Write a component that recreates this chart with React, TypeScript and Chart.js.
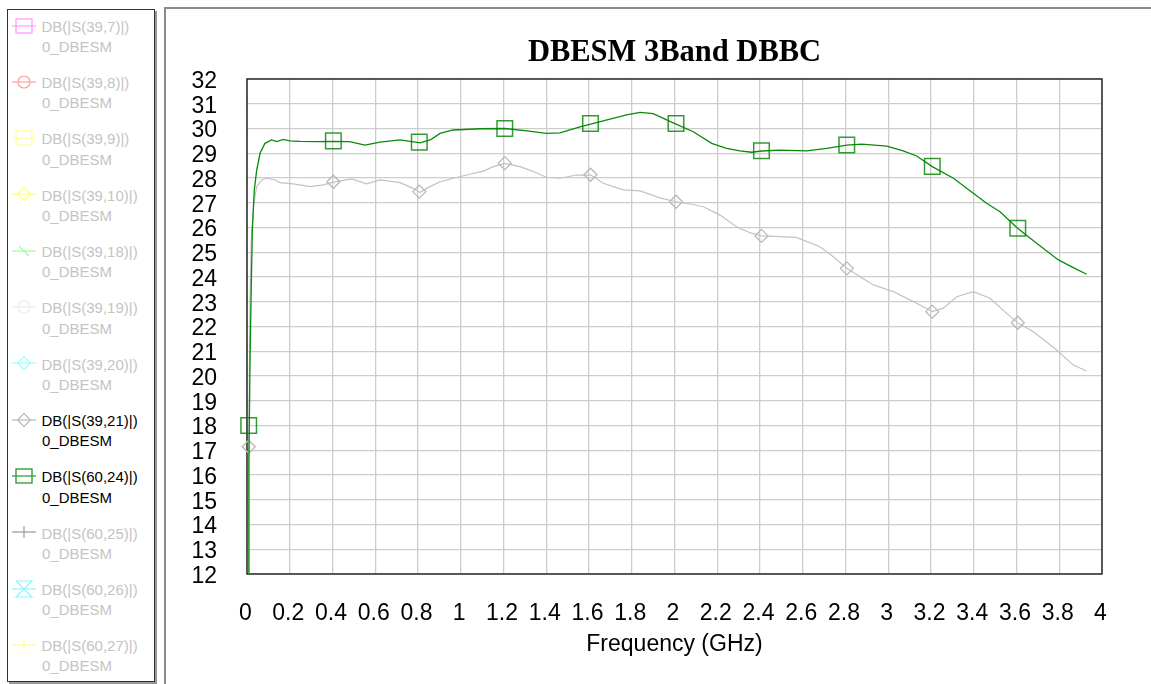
import React, { useEffect, useRef } from 'react';
import { Chart, registerables } from 'chart.js';

Chart.register(...registerables);

// ---------- data ----------
const chartTitle = 'DBESM 3Band DBBC';
const xAxisTitle = 'Frequency (GHz)';

const xTickValues = [0, 0.2, 0.4, 0.6, 0.8, 1, 1.2, 1.4, 1.6, 1.8, 2, 2.2, 2.4, 2.6, 2.8, 3, 3.2, 3.4, 3.6, 3.8, 4];
const xTickLabels = ['0', '0.2', '0.4', '0.6', '0.8', '1', '1.2', '1.4', '1.6', '1.8', '2', '2.2', '2.4', '2.6', '2.8', '3', '3.2', '3.4', '3.6', '3.8', '4'];
const yTickValues = [12, 13, 14, 15, 16, 17, 18, 19, 20, 21, 22, 23, 24, 25, 26, 27, 28, 29, 30, 31, 32];

// DB(|S(60,24)|) – green trace
const greenFreq = [
  0.006, 0.009, 0.014, 0.019, 0.025, 0.034, 0.045, 0.061, 0.084, 0.115, 0.139, 0.17, 0.2, 0.248, 0.326,
  0.404, 0.48, 0.552, 0.622, 0.716, 0.81, 0.86, 0.903, 0.965, 1.09, 1.207, 1.31, 1.4, 1.464, 1.558,
  1.608, 1.698, 1.776, 1.839, 1.9, 2.007, 2.088, 2.174, 2.244, 2.306, 2.361, 2.408, 2.494, 2.618, 2.712,
  2.806, 2.876, 2.993, 3.07, 3.133, 3.206, 3.305, 3.398, 3.46, 3.523, 3.605, 3.694, 3.796, 3.866, 3.928,
];
const greenDb = [
  5, 16.6, 20.5, 23.2, 25.9, 27.5, 28.3, 29.0, 29.4, 29.54, 29.47, 29.56, 29.5, 29.48, 29.47,
  29.48, 29.47, 29.33, 29.45, 29.54, 29.42, 29.55, 29.8, 29.94, 29.99, 30.0, 29.9, 29.8, 29.82, 30.07,
  30.18, 30.38, 30.55, 30.65, 30.6, 30.18, 29.87, 29.4, 29.2, 29.1, 29.04, 29.09, 29.13, 29.1, 29.2,
  29.33, 29.37, 29.29, 29.1, 28.89, 28.46, 27.99, 27.38, 26.98, 26.64, 25.97, 25.36, 24.69, 24.38, 24.11,
];

// DB(|S(39,21)|) – gray trace
const grayFreq = [
  0.006, 0.008, 0.014, 0.02, 0.03, 0.045, 0.069, 0.092, 0.131, 0.154, 0.217, 0.295, 0.357, 0.404, 0.49,
  0.56, 0.622, 0.716, 0.778, 0.81, 0.84, 0.903, 0.965, 1.028, 1.106, 1.152, 1.207, 1.277, 1.34, 1.4,
  1.464, 1.54, 1.609, 1.667, 1.76, 1.84, 1.932, 2.007, 2.073, 2.135, 2.213, 2.29, 2.353, 2.405, 2.494,
  2.57, 2.68, 2.743, 2.806, 2.93, 3.024, 3.133, 3.206, 3.258, 3.32, 3.398, 3.476, 3.554, 3.605, 3.679,
  3.788, 3.866, 3.928,
];
const grayDb = [
  4, 17.1, 23.0, 25.5, 26.84, 27.65, 27.92, 27.99, 27.92, 27.81, 27.76, 27.65, 27.72, 27.83, 27.96,
  27.76, 27.92, 27.81, 27.58, 27.41, 27.58, 27.85, 27.99, 28.12, 28.28, 28.46, 28.59, 28.46, 28.26, 28.03,
  27.99, 28.12, 28.12, 27.79, 27.52, 27.48, 27.2, 27.04, 26.95, 26.84, 26.5, 26.03, 25.79, 25.66, 25.63,
  25.6, 25.22, 24.82, 24.35, 23.68, 23.41, 22.94, 22.6, 22.74, 23.2, 23.41, 23.14, 22.53, 22.15, 21.79,
  21.05, 20.44, 20.2,
];

// trace markers
const markerFreq = [0.008, 0.404, 0.806, 1.206, 1.607, 2.007, 2.407, 2.806, 3.206, 3.606];
const greenMarkerDb = [18.0, 29.5, 29.45, 30.0, 30.2, 30.2, 29.1, 29.33, 28.47, 25.97];
const grayMarkerDb = [17.14, 27.85, 27.45, 28.6, 28.13, 27.04, 25.66, 24.35, 22.6, 22.15];

// legend entries
const legendLabels = [
  'DB(|S(39,7)|)', 'DB(|S(39,8)|)', 'DB(|S(39,9)|)', 'DB(|S(39,10)|)', 'DB(|S(39,18)|)', 'DB(|S(39,19)|)',
  'DB(|S(39,20)|)', 'DB(|S(39,21)|)', 'DB(|S(60,24)|)', 'DB(|S(60,25)|)', 'DB(|S(60,26)|)', 'DB(|S(60,27)|)',
];
const legendSubLabel = '0_DBESM';
const legendColors = [
  '#ff9cff', '#ff9c9c', '#ffff9c', '#ffff70', '#9cff9c', '#ececec',
  '#9cffff', '#b8b8b8', '#2a952a', '#9a9a9a', '#8cf4ff', '#ffff8c',
];
const legendSymbols = [
  'rect', 'circle', 'rect', 'diamond', 'slash', 'circle',
  'diamond', 'diamond', 'rect', 'plus', 'bowtie', 'plus',
];
const legendActive = [false, false, false, false, false, false, false, true, true, false, false, false];

// ---------- legend ----------
function LegendSymbol({ kind, color }: { kind: string; color: string }) {
  const cx = 14;
  const cy = 10;
  let shape: React.ReactNode = null;
  if (kind === 'rect') shape = <rect x={cx - 8} y={cy - 7} width={16} height={14} fill="none" stroke={color} strokeWidth={1.3} />;
  if (kind === 'circle') shape = <circle cx={cx} cy={cy} r={6} fill="none" stroke={color} strokeWidth={1.2} />;
  if (kind === 'diamond') shape = <polygon points={`${cx - 6.5},${cy} ${cx},${cy - 6.5} ${cx + 6.5},${cy} ${cx},${cy + 6.5}`} fill="none" stroke={color} strokeWidth={1.2} />;
  if (kind === 'slash') shape = <line x1={cx - 5} y1={cy - 5} x2={cx + 5} y2={cy + 5} stroke={color} strokeWidth={1.2} />;
  if (kind === 'plus') shape = <line x1={cx} y1={cy - 6} x2={cx} y2={cy + 6} stroke={color} strokeWidth={1.2} />;
  if (kind === 'bowtie')
    shape = (
      <polyline points={`${cx - 8},${cy - 8} ${cx + 8},${cy - 8} ${cx - 8},${cy + 8} ${cx + 8},${cy + 8} ${cx - 8},${cy - 8}`} fill="none" stroke={color} strokeWidth={1.2} />
    );
  return (
    <svg width={30} height={20} style={{ position: 'absolute', left: 0, top: 0, overflow: 'visible' }}>
      <line x1={2} y1={cy} x2={26} y2={cy} stroke={color} strokeWidth={1.2} />
      {shape}
    </svg>
  );
}

function Legend() {
  const firstBaseline = 32;
  const step = 56.3;
  return (
    <>
      <div
        style={{
          position: 'absolute',
          left: 7,
          top: 9,
          width: 148,
          height: 673,
          boxSizing: 'border-box',
          border: '1px solid #333',
          boxShadow: '2px 2px 0 #999',
          background: '#fff',
        }}
      />
      {legendLabels.map((label, i) => {
        const baseline = firstBaseline + step * i;
        const textColor = legendActive[i] ? '#000' : '#c4c4c4';
        return (
          <React.Fragment key={label}>
            <div style={{ position: 'absolute', left: 10, top: baseline - 6.5 - 10, width: 30, height: 20 }}>
              <LegendSymbol kind={legendSymbols[i]} color={legendColors[i]} />
            </div>
            <div style={{ position: 'absolute', left: 41.5, top: baseline - 15.2, fontSize: 15, lineHeight: '20px', color: textColor, whiteSpace: 'nowrap' }}>
              {label}
            </div>
            <div style={{ position: 'absolute', left: 42, top: baseline - 15.2 + 20.3, fontSize: 15, lineHeight: '20px', color: textColor, whiteSpace: 'nowrap' }}>
              {legendSubLabel}
            </div>
          </React.Fragment>
        );
      })}
    </>
  );
}

// ---------- chart ----------
const framePlugin = {
  id: 'plotFrame',
  beforeDatasetsDraw(chart: any) {
    const { ctx, chartArea } = chart;
    ctx.save();
    ctx.strokeStyle = '#2a2a2a';
    ctx.lineWidth = 1.5;
    ctx.strokeRect(chartArea.left, chartArea.top, chartArea.right - chartArea.left, chartArea.bottom - chartArea.top);
    ctx.restore();
  },
};

function PlotChart() {
  const canvasRef = useRef<HTMLCanvasElement | null>(null);
  useEffect(() => {
    if (!canvasRef.current) return;
    const greenLine = greenFreq.map((f, i) => ({ x: f, y: greenDb[i] }));
    const grayLine = grayFreq.map((f, i) => ({ x: f, y: grayDb[i] }));
    const greenMarks = markerFreq.map((f, i) => ({ x: f, y: greenMarkerDb[i] }));
    const grayMarks = markerFreq.map((f, i) => ({ x: f, y: grayMarkerDb[i] }));
    const sans = 'Liberation Sans, Arial, sans-serif';
    const chart = new Chart(canvasRef.current, {
      type: 'line',
      data: {
        datasets: [
          {
            label: 'DB(|S(60,24)|) markers',
            data: greenMarks,
            showLine: false,
            pointStyle: 'rect',
            pointRadius: 11,
            pointBorderColor: 'rgba(0,130,0,0.8)',
            pointBackgroundColor: 'rgba(0,0,0,0)',
            pointBorderWidth: 1.5,
            clip: false,
          } as any,
          {
            label: 'DB(|S(60,24)|)',
            data: greenLine,
            borderColor: '#0a8a0a',
            borderWidth: 1.3,
            pointRadius: 0,
            tension: 0,
            fill: false,
          },
          {
            label: 'DB(|S(39,21)|) markers',
            data: grayMarks,
            showLine: false,
            pointStyle: 'rectRot',
            pointRadius: 6.5,
            pointBorderColor: '#b8b8b8',
            pointBackgroundColor: 'rgba(0,0,0,0)',
            pointBorderWidth: 1.3,
            clip: false,
          } as any,
          {
            label: 'DB(|S(39,21)|)',
            data: grayLine,
            borderColor: '#c2c2c2',
            borderWidth: 1.2,
            pointRadius: 0,
            tension: 0,
            fill: false,
          },
        ],
      },
      options: {
        animation: false,
        responsive: false,
        devicePixelRatio: 1,
        events: [],
        layout: { padding: { left: 0, top: 0, right: 49, bottom: 0 } },
        plugins: {
          legend: { display: false },
          tooltip: { enabled: false },
          title: {
            display: true,
            text: chartTitle,
            fullSize: false,
            color: '#000',
            font: { family: 'Liberation Serif, Times New Roman, serif', size: 30.5, weight: 'bold', lineHeight: 1.2 },
            padding: { top: 25.7, bottom: 7.7 },
          },
        },
        scales: {
          x: {
            type: 'linear',
            min: 0,
            max: 4,
            afterBuildTicks: (scale: any) => {
              scale.ticks = xTickValues.map((v) => ({ value: v }));
            },
            afterFit: (scale: any) => {
              scale.height = 110;
            },
            grid: { color: '#cdcdcd', lineWidth: 1.3, drawTicks: false },
            border: { display: false },
            ticks: {
              autoSkip: false,
              maxRotation: 0,
              minRotation: 0,
              padding: 25.5,
              labelOffset: -1.5,
              color: '#000',
              font: { family: sans, size: 23 },
              callback: (_v: any, i: number) => xTickLabels[i],
            },
            title: {
              display: true,
              text: xAxisTitle,
              color: '#000',
              font: { family: sans, size: 23 },
              padding: { top: 0, bottom: 25.8 },
            },
          },
          y: {
            type: 'linear',
            min: 12,
            max: 32,
            afterBuildTicks: (scale: any) => {
              scale.ticks = yTickValues.map((v) => ({ value: v }));
            },
            afterFit: (scale: any) => {
              scale.width = 81;
            },
            grid: { color: '#cdcdcd', lineWidth: 1.3, drawTicks: false },
            border: { display: false },
            ticks: {
              autoSkip: false,
              padding: 30,
              labelOffset: 2.5,
              color: '#000',
              font: { family: sans, size: 23 },
              callback: (v: any) => String(v),
            },
          },
        },
      } as any,
      plugins: [framePlugin],
    });
    return () => chart.destroy();
  }, []);
  return <canvas ref={canvasRef} width={985} height={675} style={{ position: 'absolute', left: 166, top: 9, width: 985, height: 675 }} />;
}

export default function App() {
  return (
    <div
      style={{
        position: 'absolute',
        left: 0,
        top: 0,
        width: 1151,
        height: 684,
        overflow: 'hidden',
        background: '#fff',
        fontFamily: 'Liberation Sans, Arial, sans-serif',
      }}
    >
      <Legend />
      <div
        style={{
          position: 'absolute',
          left: 164,
          top: 7,
          width: 987,
          height: 677,
          boxSizing: 'border-box',
          borderLeft: '2px solid #8a8a8a',
          borderTop: '2px solid #8a8a8a',
        }}
      />
      <PlotChart />
    </div>
  );
}
